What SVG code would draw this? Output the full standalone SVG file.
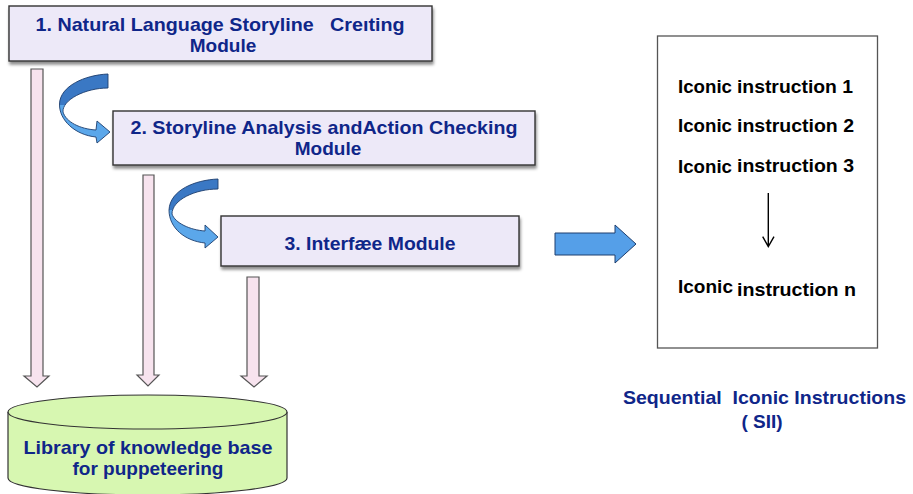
<svg xmlns="http://www.w3.org/2000/svg" width="913" height="494" viewBox="0 0 913 494">
  <defs>
    <filter id="shadow" x="-5%" y="-20%" width="110%" height="150%">
      <feDropShadow dx="1" dy="3" stdDeviation="1.6" flood-color="#000" flood-opacity="0.45"/>
    </filter>
    <linearGradient id="ribbon1" x1="0" y1="0" x2="0" y2="1">
      <stop offset="0" stop-color="#3A78C4"/>
      <stop offset="0.45" stop-color="#3A78C4"/>
      <stop offset="0.45" stop-color="#5BA7EA"/>
      <stop offset="1" stop-color="#5BA7EA"/>
    </linearGradient>
    <style>
      .module { fill: #EDE9F8; stroke: #333; stroke-width: 1.4; filter: url(#shadow); }
      .title { font-family: "Liberation Sans", Arial, sans-serif; font-weight: bold; font-size: 19px; fill: #0F2689; text-anchor: middle; white-space: pre; }
      .item { font-family: "Liberation Sans", Arial, sans-serif; font-weight: bold; font-size: 18.5px; fill: #000; }
      .down { fill: #F7E3EE; stroke: #555; stroke-width: 1.2; }
      .turn { fill: url(#ribbon1); stroke: #1E3E6E; stroke-width: 0.9; }
      .block { fill: #559FE8; stroke: #1E3E6E; stroke-width: 1; }
    </style>
  </defs>

  <!-- connectors -->
  <g id="connectors">
    <!-- curved hand-off arrows between modules -->
    <path class="turn" d="M108,74 C85,75 60,86 59.5,104 C59,120 75,135 96,137 L97,143 L110,132 L97,121 L96,130 C80,129 66,122 63,112 C62,100 85,88 108,88 Z"/>
    <path class="turn" d="M218,179 C195,180 170,190 169,210 C169,228 185,241 205,243 L205,248 L218,237 L205,225 L205,231 C190,230 175,223 172,214 C172,200 195,189 218,189 Z"/>
    <!-- hollow arrows down to the knowledge base -->
    <path class="down" d="M31,69 H43 V376 H49 L37,387 L24,376 H31 Z"/>
    <path class="down" d="M143,175 H154 V375 H159 L148,386 L137,375 H143 Z"/>
    <path class="down" d="M247,277 H259 V376 H267 L254,387 L241,376 H247 Z"/>
    <!-- block arrow to the instruction sequence -->
    <path class="block" d="M555,233 H615 V225 L636,244 L615,263 V255 H555 Z"/>
  </g>

  <!-- module 1 -->
  <g id="module1">
    <rect class="module" x="9" y="6" width="423" height="55"/>
    <text class="title" xml:space="preserve" x="220" y="31" textLength="369" lengthAdjust="spacingAndGlyphs">1. Natural Language Storyline   Creıting</text>
    <text class="title" x="223" y="52">Module</text>
  </g>

  <!-- module 2 -->
  <g id="module2">
    <rect class="module" x="113" y="111" width="422" height="54"/>
    <text class="title" x="324" y="134" textLength="387" lengthAdjust="spacingAndGlyphs">2. Storyline Analysis andAction Checking</text>
    <text class="title" x="328" y="155">Module</text>
  </g>

  <!-- module 3 -->
  <g id="module3">
    <rect class="module" x="221" y="216" width="298" height="50"/>
    <text class="title" x="370" y="250" textLength="171" lengthAdjust="spacingAndGlyphs">3. Interfæe Module</text>
  </g>

  <!-- knowledge base cylinder -->
  <g id="library">
    <path d="M8,412 V478 A139.5,17 0 0 0 287,478 V412" fill="#D7F7B1" stroke="#333" stroke-width="1.2"/>
    <ellipse cx="147.5" cy="412" rx="139.5" ry="17" fill="#D7F7B1" stroke="#333" stroke-width="1.2"/>
    <text class="title" x="148" y="454" textLength="249" lengthAdjust="spacingAndGlyphs">Library of knowledge base</text>
    <text class="title" x="148" y="475">for puppeteering</text>
  </g>

  <!-- sequential iconic instructions -->
  <g id="sii">
    <rect x="657.5" y="36" width="220" height="312" fill="#fff" stroke="#555" stroke-width="1.3"/>
    <text class="item" x="678" y="93" textLength="54" lengthAdjust="spacingAndGlyphs">Iconic</text>
    <text class="item" x="737" y="93" textLength="116" lengthAdjust="spacingAndGlyphs">instruction 1</text>
    <text class="item" x="678" y="132" textLength="54" lengthAdjust="spacingAndGlyphs">Iconic</text>
    <text class="item" x="737" y="132" textLength="117" lengthAdjust="spacingAndGlyphs">instruction 2</text>
    <text class="item" x="678" y="173" textLength="54" lengthAdjust="spacingAndGlyphs">Iconic</text>
    <text class="item" x="737" y="172" textLength="117" lengthAdjust="spacingAndGlyphs">instruction 3</text>
    <path d="M768.3,193 V246.5 M762.7,236.7 L768.3,246.5 L774,236.7" fill="none" stroke="#000" stroke-width="1.4"/>
    <text class="item" x="678" y="293" textLength="55" lengthAdjust="spacingAndGlyphs">Iconic</text>
    <text class="item" x="737" y="296" textLength="119" lengthAdjust="spacingAndGlyphs">instruction n</text>
  </g>

  <g id="sii-label">
    <text class="title" xml:space="preserve" x="764.5" y="404" textLength="283" lengthAdjust="spacingAndGlyphs">Sequential  Iconic Instructions</text>
    <text class="title" x="762" y="428">( SII)</text>
  </g>
</svg>
